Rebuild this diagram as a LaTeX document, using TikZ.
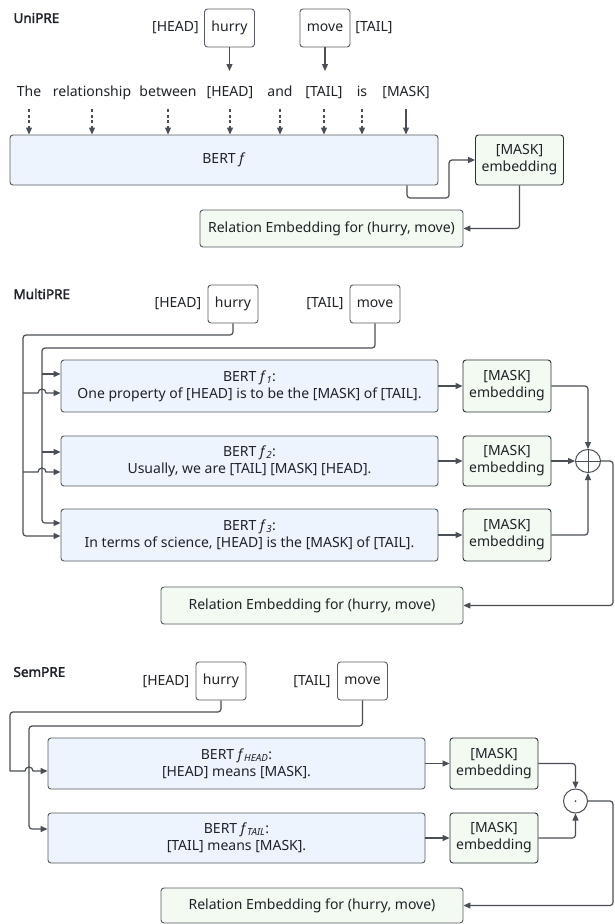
\documentclass[tikz,border=0pt]{standalone}
\usepackage{fontspec}
\setmainfont{Noto Sans}
\newfontfamily\titlefont{Noto Sans}[FakeBold=2.2]
\usetikzlibrary{arrows.meta,shapes.geometric}
\definecolor{linec}{HTML}{4A4F57}
\definecolor{edgec}{HTML}{565B63}
\definecolor{darkedge}{HTML}{2E3238}
\definecolor{bertfill}{HTML}{EEF4FD}
\definecolor{embfill}{HTML}{F2FAF1}
\definecolor{txtc}{HTML}{1F2328}
\tikzset{
  conn/.style={draw=linec,line width=1.2pt,rounded corners=3pt},
  arr/.style={conn,-{Triangle[length=7pt,width=6pt]}},
  dasharr/.style={arr,dash pattern=on 3pt off 2.5pt},
  bertbox/.style={draw=edgec,fill=bertfill,rounded corners=3pt,line width=0.9pt,align=center,inner sep=0pt,minimum width=377pt,minimum height=52pt},
  maskbox/.style={draw=darkedge,fill=embfill,rounded corners=3pt,line width=0.9pt,align=center,inner sep=0pt,minimum width=88pt,minimum height=51pt},
  relbox/.style={draw=edgec,fill=embfill,rounded corners=3pt,line width=0.9pt,inner sep=0pt,minimum width=302pt,minimum height=37pt},
  tokbox/.style={draw=edgec,fill=white,rounded corners=3pt,line width=0.9pt,inner sep=0pt,minimum width=50pt,minimum height=38pt},
  word/.style={anchor=base},
  title/.style={anchor=west,font=\fontsize{13.5}{17}\selectfont\titlefont},
}
\begin{document}
\begin{tikzpicture}[x=1pt,y=-1pt,every node/.style={font=\fontsize{14}{17}\selectfont,text=txtc}]
\path[use as bounding box,fill=white] (0,0) rectangle (614,924);
% UniPRE
\node[title] (utitle) at (10,18) {UniPRE};
\node (uhead) at (175.5,28) {[HEAD]};
\node[tokbox] (uhurry) at (229.5,28) {hurry};
\node[tokbox] (umove) at (325,28) {move};
\node (utail) at (374,28) {[TAIL]};
\node[word] (uw1) at (29,96) {The};
\node[word] (uw2) at (92,96) {relationship};
\node[word] (uw3) at (168,96) {between};
\node[word] (uw4) at (230,96) {[HEAD]};
\node[word] (uw5) at (280,96) {and};
\node[word] (uw6) at (324,96) {[TAIL]};
\node[word] (uw7) at (362,96) {is};
\node[word] (uw8) at (406,96) {[MASK]};
\node[bertbox,minimum width=428pt,minimum height=50pt] (ubert) at (224,160) {BERT \textit{f}};
\node[maskbox,minimum height=50pt] (umask) at (519.5,160) {[MASK]\\embedding};
\node[relbox,minimum width=263pt] (urel) at (331.5,228.5) {Relation Embedding for (hurry, move)};
\coordinate (uarr) at (0,71);
\draw[arr] (uhurry.south) -- (uhurry.south |- uarr);
\draw[arr] (umove.south) -- (umove.south |- uarr);
\draw[dasharr] ([yshift=-13pt]uw1.base) -- (uw1 |- ubert.north);
\draw[dasharr] ([yshift=-13pt]uw2.base) -- (uw2 |- ubert.north);
\draw[dasharr] ([yshift=-13pt]uw3.base) -- (uw3 |- ubert.north);
\draw[dasharr] ([yshift=-13pt]uw4.base) -- (uw4 |- ubert.north);
\draw[dasharr] ([yshift=-13pt]uw5.base) -- (uw5 |- ubert.north);
\draw[dasharr] ([yshift=-13pt]uw6.base) -- (uw6 |- ubert.north);
\draw[dasharr] ([yshift=-13pt]uw7.base) -- (uw7 |- ubert.north);
\draw[arr] ([yshift=-13pt]uw8.base) -- (uw8 |- ubert.north);
\draw[arr] (ubert.south -| 407,0) |- (449,198) |- (umask.west);
\draw[arr] (umask.south) |- (urel.east);
% MultiPRE
\node[title] (mtitle) at (10,294) {MultiPRE};
\node (mhead) at (178,304) {[HEAD]};
\node[tokbox] (mhurry) at (233,304) {hurry};
\node (mtail) at (325,304) {[TAIL]};
\node[tokbox] (mmove) at (375,304) {move};
\node[bertbox] (mf1) at (249.5,386) {BERT \textit{f}\textsubscript{\textit{1}}:\\One property of [HEAD] is to be the [MASK] of [TAIL].};
\node[bertbox,minimum height=50pt] (mf2) at (249.5,461) {BERT \textit{f}\textsubscript{\textit{2}}:\\Usually, we are [TAIL] [MASK] [HEAD].};
\node[bertbox] (mf3) at (249.5,535) {BERT \textit{f}\textsubscript{\textit{3}}:\\In terms of science, [HEAD] is the [MASK] of [TAIL].};
\node[maskbox,minimum height=52pt] (mm1) at (507,386) {[MASK]\\embedding};
\node[maskbox,minimum height=50pt] (mm2) at (507,461) {[MASK]\\embedding};
\node[maskbox,minimum height=52pt] (mm3) at (507,535) {[MASK]\\embedding};
\node[ellipse,draw=linec,line width=1pt,minimum width=25pt,minimum height=23pt,inner sep=0pt] (mplus) at (588,461) {};
\draw[linec,line width=1pt] (mplus.north) -- (mplus.south) (mplus.west) -- (mplus.east);
\node[relbox] (mrel) at (312,605.5) {Relation Embedding for (hurry, move)};
\coordinate (mhbus) at (23,335);
\coordinate (mtbus) at (42,348);
\draw[arr] (mhurry.south) |- (mhbus) |- (mf3.west |- 0,536);
\draw[arr] (mmove.south) |- (mtbus) |- (mf3.west |- 0,523);
\draw[arr] (42,374) -- (mf1.west |- 0,374);
\draw[arr] (42,452) -- (mf2.west |- 0,452);
\draw[arr,sharp corners] (23,393) -- (38,393) arc[start angle=180,end angle=0,radius=4pt] -- (mf1.west |- 0,393);
\draw[arr,sharp corners] (23,472) -- (38,472) arc[start angle=180,end angle=0,radius=4pt] -- (mf2.west |- 0,472);
\draw[arr] (mf1.east) -- (mm1.west);
\draw[arr] (mf2.east) -- (mm2.west);
\draw[arr] (mf3.east) -- (mm3.west);
\draw[arr] (mm1.east) -| (mplus.north);
\draw[arr] (mm2.east) -- (mplus.west);
\draw[arr] (mm3.east) -| (mplus.south);
\draw[arr] (mplus.east) -- (613,461) |- (mrel.east);
% SemPRE
\node[title] (stitle) at (10,672) {SemPRE};
\node (shead) at (166,682) {[HEAD]};
\node[tokbox] (shurry) at (221,681) {hurry};
\node (stail) at (312,682) {[TAIL]};
\node[tokbox] (smove) at (362.5,681) {move};
\node[bertbox,minimum height=51pt] (sf1) at (236.5,763.5) {BERT \textit{f}\textsubscript{\textit{HEAD}}:\\{}[HEAD] means [MASK].};
\node[bertbox,minimum height=50pt] (sf2) at (236.5,838) {BERT \textit{f}\textsubscript{\textit{TAIL}}:\\{}[TAIL] means [MASK].};
\node[maskbox] (sm1) at (494,763.5) {[MASK]\\embedding};
\node[maskbox,minimum height=50pt] (sm2) at (494,838) {[MASK]\\embedding};
\node[circle,draw=linec,line width=1pt,minimum size=24pt,inner sep=0pt] (sdot) at (575.5,801) {};
\fill[linec] (sdot.center) circle[radius=1pt];
\node[relbox,minimum height=35pt] (srel) at (312,905.5) {Relation Embedding for (hurry, move)};
\coordinate (shbus) at (10,712);
\coordinate (stbus) at (29,726);
\draw[conn] (shurry.south) |- (shbus) -- (10,771);
\draw[arr,sharp corners] (10,771) -- (25,771) arc[start angle=180,end angle=0,radius=4pt] -- (sf1.west |- 0,771);
\draw[arr] (smove.south) |- (stbus) |- (sf2.west |- 0,829);
\draw[arr] (sf1.east) -- (sm1.west);
\draw[arr] (sf2.east) -- (sm2.west);
\draw[arr] (sm1.east) -| (sdot.north);
\draw[arr] (sm2.east) -| (sdot.south);
\draw[arr] (sdot.east) -- (613,801) |- (srel.east);
\end{tikzpicture}
\end{document}
